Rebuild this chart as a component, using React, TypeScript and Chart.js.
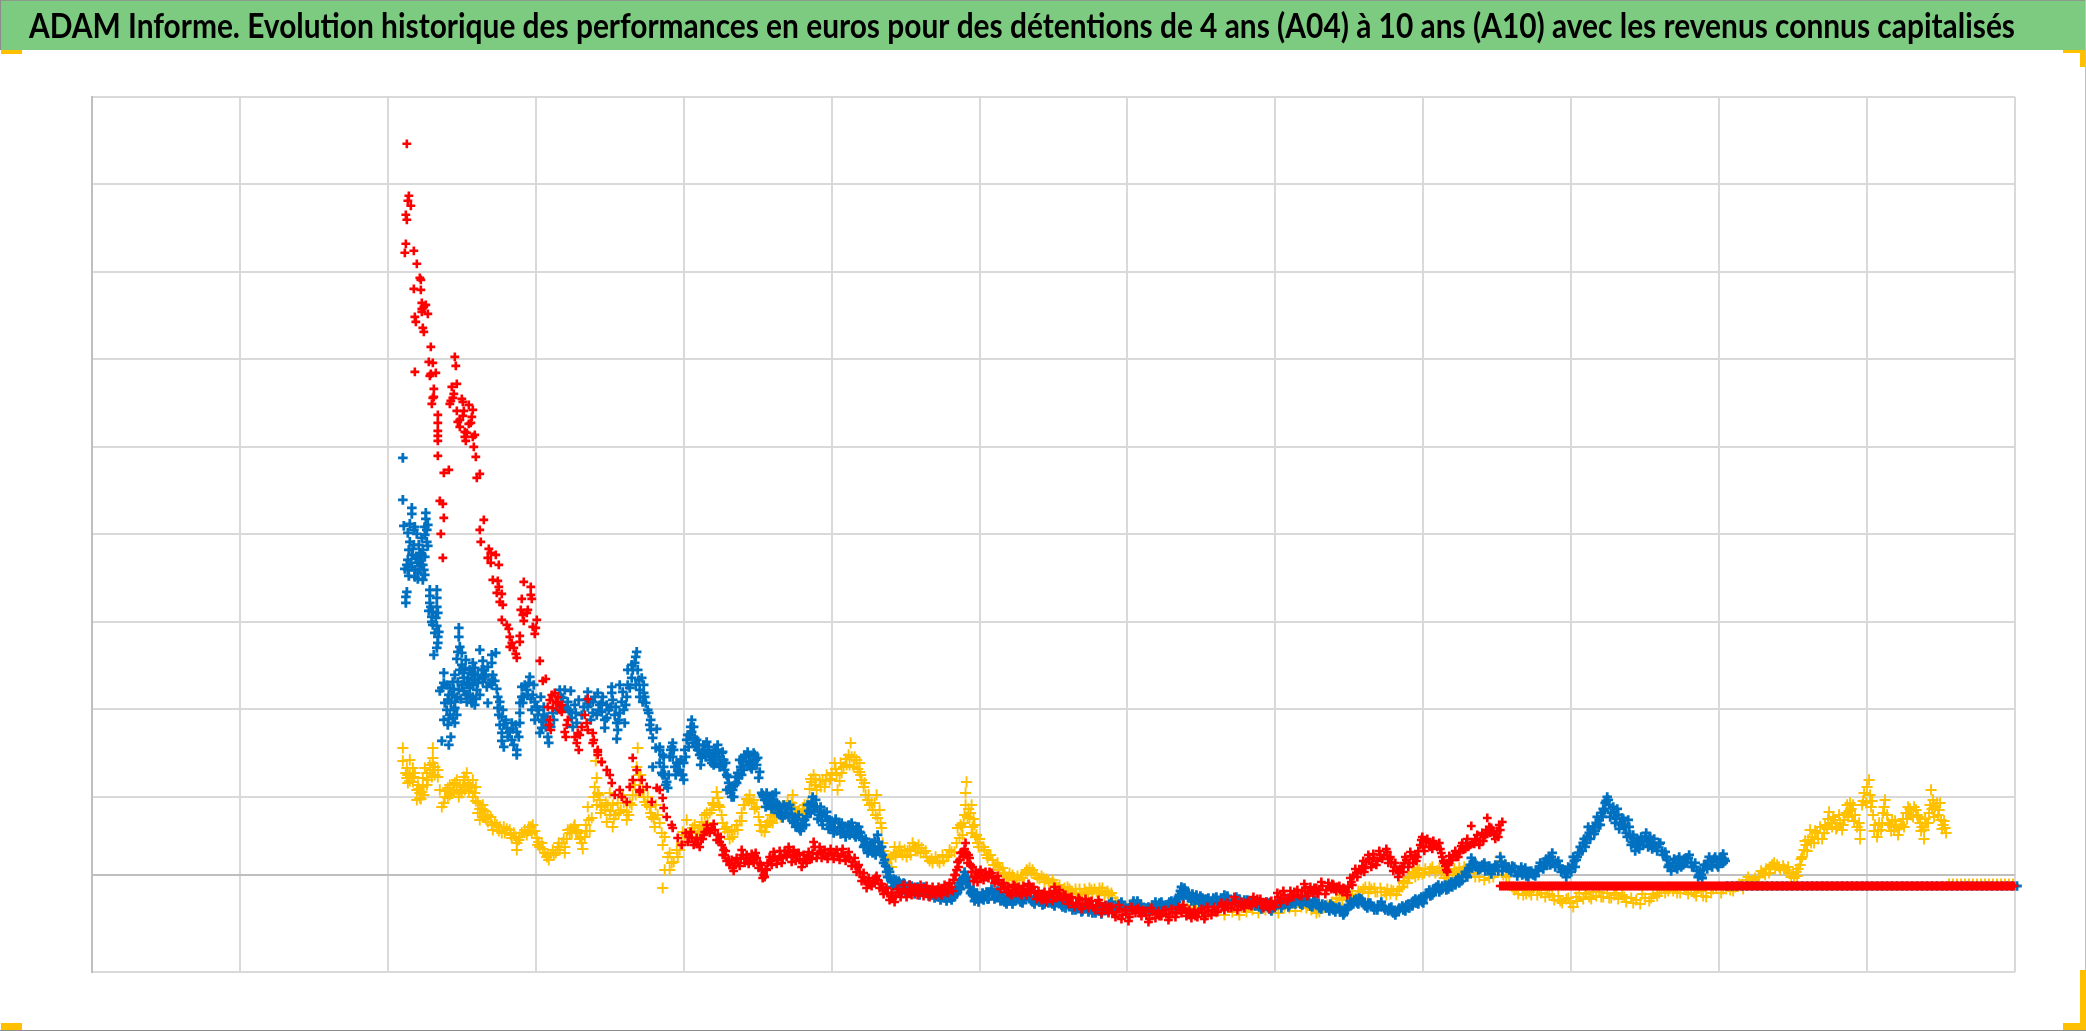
import React, { useEffect, useRef } from "react";
import { Chart, registerables } from "chart.js";

Chart.register(...registerables);

const chartTitle =
  "ADAM Informe. Evolution historique des performances en euros pour des détentions de 4 ans (A04) à 10 ans (A10) avec les revenus connus capitalisés";

const seriesNames = ["A10", "A07", "A04"];
const yGridValues = [778, 690.5, 603, 515.5, 428, 340.5, 253, 165.5, 78, 0, -97];

// x, y pairs
const a10Early = [
  315,731, 317,679, 316,674, 319,669, 314,660, 315,655, 314,631, 313,622, 322,624, 325,611, 328,597, 329,595, 322,586, 329,585,
  330,572, 334,570, 330,566, 332,568, 330,563, 336,561, 323,558, 324,553, 331,547, 332,543, 339,528, 337,513, 341,512, 323,503,
  344,502, 339,501, 338,499, 363,518, 364,509, 365,491, 360,488, 362,481, 361,477, 359,474, 358,471, 342,486, 342,478, 341,477,
  340,471, 370,476, 371,473, 377,470, 381,465, 365,464, 372,464, 371,459, 380,458, 368,455, 366,453, 379,452, 377,451, 368,448,
  373,443, 375,442, 383,440, 381,438, 373,438, 374,434, 346,460, 346,452, 346,444, 346,439, 346,434, 346,419, 382,428, 384,418,
  352,402, 357,405, 388,401, 385,397, 348,374, 351,371, 352,357, 349,341, 351,317, 392,355, 388,345, 389,333, 397,326, 399,322,
  404,320, 396,317, 399,312, 407,310, 401,295, 406,294, 407,288, 405,282, 410,281, 408,273, 411,270, 410,255, 415,250, 417,246,
  418,238, 420,232, 418,228, 422,227, 424,221, 425,217, 432,293, 439,288, 439,280, 430,276, 440,276, 429,265, 436,265, 435,262,
  431,260, 432,254, 445,255, 441,248, 444,247, 443,241, 428,239, 428,233, 448,214, 451,194, 454,196, 463,182, 466,178, 458,175,
  464,173, 456,168, 461,167, 468,165, 465,172, 470,170, 460,180, 470,163, 458,155, 457,150, 459,145, 476,155, 475,150, 473,143,
  474,138, 493,160, 495,152, 490,148, 496,145, 486,142, 483,138, 488,140, 485,132, 487,125, 501,142, 502,135, 501,132, 506,125,
  506,120, 510,113, 496,176, 506,123, 510,113, 515,105, 518,100, 520,92, 523,80, 528,85, 530,78, 535,73, 538,88, 541,95, 545,105,
  548,85, 541,117, 550,95, 555,88, 548,83, 560,73, 565,87, 568,85, 571,77, 572,67, 575,58, 580,50, 581,47, 586,37, 590,30,
];

const a10Band = [
  594,42, 597,38, 600,37, 603,33, 606,31, 608,28, 611,36, 613,43, 616,45, 620,47, 623,45, 626,40, 628,33, 630,30, 632,25, 633,20,
  635,14, 638,10, 641,7, 643,12, 646,12, 649,16, 651,20, 654,17, 656,14, 658,17, 661,15, 663,19, 665,17, 668,12, 670,5, 672,0,
  673,-2, 674,6, 676,12, 679,14, 681,17, 683,18, 686,15, 689,19, 691,17, 694,20, 696,24, 698,23, 701,18, 703,20, 705,20, 708,16,
  711,12, 713,15, 716,18, 718,17, 721,22, 723,28, 726,21, 729,23, 731,22, 734,19, 737,22, 740,20, 743,22, 746,19, 750,21, 753,19,
  756,18, 758,17, 761,13, 764,9, 766,8, 768,3, 771,-2, 773,-6, 776,-8, 778,-8, 781,-6, 784,-3, 786,-5, 789,-9, 791,-14, 793,-15,
  796,-18, 799,-21, 801,-23, 804,-21, 807,-17, 810,-17, 813,-15, 816,-18, 819,-14, 821,-15, 824,-17, 827,-15, 830,-14, 833,-17,
  836,-15, 839,-18, 842,-16, 845,-15, 848,-18, 851,-14, 854,-15, 857,-13, 860,-12, 862,-5, 864,0, 865,5, 866,13, 868,15, 871,23,
  872,18, 874,32, 875,22, 876,12, 877,20, 878,17, 879,10, 881,8, 883,-2, 885,-3, 887,2, 890,-1, 893,0, 895,-2, 898,3, 901,-3,
  904,-6, 907,-5, 910,-10, 913,-13, 916,-12, 918,-18, 921,-15, 923,-11, 925,-13, 928,-18, 931,-14, 933,-17, 936,-15, 938,-11,
  940,-13, 943,-18, 946,-20, 948,-22, 951,-19, 954,-24, 956,-22, 959,-19, 962,-22, 964,-16, 966,-18, 969,-22, 972,-20, 975,-25,
  978,-23, 981,-28, 985,-28, 988,-25, 991,-30, 995,-29, 998,-27, 1001,-32, 1005,-30, 1008,-28, 1011,-34, 1015,-35, 1018,-32,
  1021,-38, 1025,-37, 1028,-34, 1031,-40, 1035,-39, 1038,-42, 1041,-36, 1045,-34, 1048,-38, 1051,-35, 1055,-40, 1058,-44, 1061,-37,
  1065,-39, 1068,-41, 1071,-36, 1075,-39, 1078,-42, 1081,-37, 1085,-38, 1088,-35, 1091,-33, 1093,-34, 1096,-37, 1099,-40, 1101,-38,
  1104,-41, 1107,-37, 1111,-38, 1114,-41, 1117,-36, 1121,-35, 1124,-37, 1127,-32, 1131,-32, 1134,-30, 1137,-33, 1141,-28, 1144,-26,
  1147,-31, 1151,-31, 1154,-28, 1158,-30, 1161,-26, 1163,-27, 1166,-24, 1170,-29, 1173,-28, 1176,-31, 1179,-27, 1181,-30, 1184,-27,
  1187,-22, 1190,-24, 1193,-20, 1197,-23, 1200,-20, 1203,-17, 1207,-20, 1211,-16, 1214,-13, 1217,-18, 1220,-16, 1223,-13, 1226,-18,
  1228,-15, 1231,-11, 1235,-15, 1238,-12, 1241,-9, 1243,-14, 1246,-12, 1249,-15, 1252,-13, 1255,-17, 1257,-12, 1260,-7, 1262,-1,
  1265,2, 1268,5, 1271,9, 1273,3, 1275,13, 1278,16, 1281,11, 1283,17, 1286,14, 1289,20, 1293,20, 1296,23, 1298,16, 1300,13, 1303,8,
  1306,5, 1308,2, 1311,8, 1313,12, 1315,15, 1318,12, 1320,19, 1323,17, 1325,14, 1327,24, 1330,35, 1332,28, 1335,33, 1338,32, 1341,26,
  1344,30, 1348,32, 1350,22, 1351,18, 1353,12, 1355,5, 1357,10, 1359,15, 1362,20, 1365,18, 1368,23, 1370,29, 1372,25, 1375,32, 1377,28,
  1380,49, 1381,32, 1384,36, 1385,35, 1388,30, 1391,42, 1393,38, 1395,45, 1396,57, 1398,48, 1400,47, 1403,40, 1405,40, 1407,38, 1409,45,
  1411,53,
];

const a10Thick = [
  596,33, 599,43, 602,30, 605,37, 609,36, 612,40, 615,50, 618,42, 622,51, 625,35, 629,38, 631,20, 634,24, 637,15, 640,15, 642,4, 645,17, 648,9,
  650,25, 653,12, 655,20, 657,11, 660,21, 662,12, 664,22, 667,7, 669,10, 671,-3, 675,5, 678,18, 680,10, 682,23, 685,11, 688,24, 690,12, 693,24,
  695,18, 697,28, 700,13, 702,25, 704,14, 707,22, 710,8, 712,20, 715,12, 717,23, 720,16, 722,33, 725,17, 728,28, 730,17, 733,25, 736,16, 739,26,
  742,16, 745,25, 748,15, 751,26, 754,14, 757,23, 760,9, 763,17, 765,3, 767,10, 770,-6, 772,2, 775,-13, 777,-3, 780,-11, 783,-8, 785,-1, 788,-13,
  790,-9, 792,-19, 795,-13, 798,-25, 800,-18, 803,-27, 806,-14, 809,-22, 812,-10, 815,-22, 818,-10, 820,-20, 823,-12, 826,-20, 829,-10, 832,-21,
  835,-11, 838,-22, 841,-12, 844,-20, 847,-12, 850,-20, 853,-10, 856,-18, 858,-8, 861,-16, 863,0, 867,8, 869,22, 873,26, 880,3, 882,-6, 884,3,
  886,-7, 889,5, 892,-5, 894,3, 897,-3, 900,2, 903,-8, 906,-1, 909,-14, 912,-8, 915,-17, 917,-12, 920,-20, 922,-10, 924,-18, 927,-12, 930,-20,
  932,-11, 935,-20, 937,-9, 939,-18, 942,-12, 945,-24, 947,-16, 950,-25, 953,-17, 955,-27, 958,-17, 961,-26, 963,-12, 965,-23, 968,-15, 971,-25,
  974,-20, 977,-29, 980,-22, 983,-32, 987,-23, 990,-34, 994,-24, 997,-33, 1000,-26, 1004,-35, 1007,-25, 1010,-38, 1014,-30, 1017,-38, 1020,-32,
  1024,-42, 1027,-30, 1030,-44, 1034,-35, 1037,-46, 1040,-32, 1044,-38, 1047,-33, 1050,-41, 1054,-36, 1057,-47, 1060,-33, 1064,-43, 1067,-36,
  1070,-41, 1074,-35, 1077,-45, 1080,-34, 1084,-42, 1087,-32, 1090,-38, 1092,-30, 1095,-41, 1098,-35, 1100,-43, 1103,-35, 1106,-42, 1110,-34,
  1113,-44, 1116,-32, 1120,-40, 1123,-32, 1126,-37, 1130,-28, 1133,-35, 1136,-28, 1140,-33, 1143,-22, 1146,-35, 1150,-27, 1153,-33, 1157,-26,
  1160,-31, 1162,-22, 1165,-29, 1169,-24, 1172,-33, 1175,-27, 1178,-34, 1180,-26, 1183,-32, 1186,-18, 1189,-28, 1192,-16, 1196,-26, 1199,-16,
  1202,-22, 1206,-15, 1210,-21, 1213,-9, 1216,-21, 1219,-12, 1222,-18, 1225,-13, 1227,-19, 1230,-7, 1234,-19, 1237,-8, 1240,-14, 1242,-10,
  1245,-16, 1248,-11, 1251,-17, 1254,-14, 1256,-20, 1259,-3, 1261,-10, 1264,6, 1266,-2, 1270,4, 1272,14, 1274,7, 1277,20, 1280,8, 1282,21, 1285,10,
  1288,24, 1291,16, 1295,26, 1297,12, 1299,18, 1302,4, 1304,12, 1307,-2, 1309,6, 1312,3, 1314,18, 1317,8, 1319,23, 1322,12, 1324,20, 1326,18,
  1329,30, 1331,38, 1333,24, 1336,36, 1339,28, 1342,34, 1346,28, 1349,26, 1352,14, 1354,9, 1356,3, 1358,19, 1361,15, 1364,24, 1367,18, 1369,24,
  1371,32, 1374,26, 1376,36, 1379,30, 1383,31, 1386,40, 1389,34, 1392,34, 1394,40, 1397,44, 1399,42, 1402,44, 1404,36, 1406,44, 1408,50,
];

const a10TailValue = -11;
const a10TailX = [
  1409,1411,1413,1415,1417,1419,1421,1423,1425,1427,1429,1431,1433,1435,1437,1439,1441,1443,1445,1447,1449,1451,1453,1455,1457,1459,1461,1463,
  1465,1467,1469,1471,1473,1475,1477,1479,1481,1483,1485,1487,1489,1491,1493,1495,1497,1499,1501,1503,1505,1507,1509,1511,1513,1515,1517,1519,
  1521,1523,1525,1527,1529,1531,1533,1535,1537,1539,1541,1543,1545,1547,1549,1551,1553,1555,1557,1559,1561,1563,1565,1567,1569,1571,1573,1575,
  1577,1579,1581,1583,1585,1587,1589,1591,1593,1595,1597,1599,1601,1603,1605,1607,1609,1611,1613,1615,1617,1619,1621,1623,1625,1627,1629,1631,
  1633,1635,1637,1639,1641,1643,1645,1647,1649,1651,1653,1655,1657,1659,1661,1663,1665,1667,1669,1671,1673,1675,1677,1679,1681,1683,1685,1687,
  1689,1691,1693,1695,1697,1699,1701,1703,1705,1707,1709,1711,1713,1715,1717,1719,1721,1723,1725,1727,1729,1731,1733,1735,1737,1739,1741,1743,
  1745,1747,1749,1751,1753,1755,1757,1759,1761,1763,1765,1767,1769,1771,1773,1775,1777,1779,1781,1783,1785,1787,1789,1791,1793,1795,1797,1799,
  1801,1803,1805,1807,1809,1811,1813,1815,1817,1819,1821,1823,1825,1827,1829,1831,1833,1835,1837,1839,1841,1843,1845,1847,1849,1851,1853,1855,
  1857,1859,1861,1863,1865,1867,1869,1871,1873,1875,1877,1879,1881,1883,1885,1887,1889,1891,1893,1895,1897,1899,1901,1903,1905,1907,1909,1911,
  1913,1915,1917,1919,1921,1923,
];

const a07Early = [
  311,417, 311,375, 320,367, 320,361, 334,362, 334,356, 312,349, 318,351, 323,348, 333,348, 336,350, 335,345, 316,342, 325,341, 330,337,
  335,333, 318,333, 322,330, 336,329, 331,325, 330,320, 320,320, 328,315, 316,315, 315,310, 320,308, 326,312, 331,310, 313,306, 316,305,
  323,305, 328,305, 332,305, 317,299, 331,295, 326,302, 315,283, 314,278, 314,272, 338,285, 345,285, 338,279, 345,277, 338,272, 345,268,
  337,264, 341,263, 346,262, 340,253, 341,250, 345,249, 343,242, 346,238, 346,232, 345,227, 342,220, 367,247, 367,238, 388,225, 368,228,
  366,223, 370,222, 365,216, 370,210, 373,207, 400,220, 404,222, 391,214, 400,212, 381,212, 383,207, 371,202, 352,202, 380,202, 386,200,
  393,198, 401,200, 363,200, 376,197, 383,195, 391,193, 400,195, 361,193, 366,193, 375,192, 381,190, 352,192, 350,187, 348,184, 358,187,
  378,187, 385,185, 400,190, 405,186, 376,180, 381,178, 388,180, 360,180, 365,178, 356,175, 363,173, 375,173, 380,172, 396,172, 353,172,
  355,165, 363,167, 406,178, 408,173, 406,167, 411,165, 410,158, 414,155, 358,160, 361,157, 352,155, 363,152, 356,150, 408,150, 420,152,
  415,147, 428,152, 410,142, 418,143, 425,143, 410,134, 420,135, 350,134, 359,138, 357,130, 425,125, 425,120, 438,198, 433,190, 430,188,
  435,185, 430,178, 436,180, 431,172, 428,162, 443,173, 445,168, 446,160, 443,155, 451,153, 450,147, 448,142, 456,138, 457,132, 455,158,
  468,185, 479,184, 471,177, 476,173, 475,167, 478,163, 480,157, 485,152, 496,183, 506,182, 501,173, 508,170, 496,168, 501,162, 510,163,
  515,157, 513,147, 520,188, 520,182, 519,168, 523,160, 525,152, 526,145, 525,136, 531,183, 530,173, 528,162, 533,152, 545,223, 543,212,
  536,205, 546,205, 540,197, 550,197, 538,187, 548,185, 553,178, 551,173, 548,178, 554,172, 557,162, 559,155, 559,145, 565,146, 561,137,
  564,127, 561,108, 568,128, 572,118, 326,296, 321,326, 328,322, 333,318, 324,316, 370,190, 386,192, 395,188, 372,184, 384,176, 367,185,
  392,205, 378,205, 396,208, 374,215, 437,192, 441,180, 428,172, 440,165, 452,168, 459,148, 461,162, 470,168, 483,170, 490,160, 494,175,
  499,155, 505,160, 515,170, 511,178, 535,178, 528,190, 534,170, 540,210, 552,190, 544,190, 322,345, 317,325, 327,330, 333,340, 319,312,
  325,318, 329,310, 323,298, 333,300, 340,258, 344,257, 347,243, 339,268, 355,190, 357,180, 362,186, 368,205, 372,197, 377,192, 382,200,
  387,196, 390,205, 394,200, 398,192, 403,194, 378,178, 383,170, 374,180, 369,176, 359,172, 362,165, 357,156, 365,160, 407,160, 412,150,
  416,138, 421,146, 424,150, 427,138, 422,130, 412,128, 432,178, 439,176, 442,190, 447,165, 449,178, 452,160, 454,148, 450,155, 458,150,
  462,155, 465,165, 469,178, 473,185, 477,165, 481,148, 484,162, 487,175, 492,168, 498,172, 503,178, 507,165, 510,172, 513,155, 517,165,
  521,175, 524,168, 527,155, 532,165, 536,190, 541,205, 544,218, 547,195, 552,182, 556,165, 558,150,
];

const a07Band = [
  568,125, 571,120, 570,102, 568,112, 572,108, 575,93, 573,100, 576,87, 578,118, 579,125, 581,132, 581,118, 580,128, 583,108, 585,112,
  586,104, 588,105, 590,100, 591,100, 589,115, 592,112, 593,125, 594,118, 595,135, 597,128, 598,140, 600,155, 600,143, 601,132, 602,148,
  603,137, 604,128, 606,125, 607,130, 608,120, 610,117, 611,125, 613,122, 615,133, 616,122, 617,128, 619,115, 620,112, 621,120, 623,125,
  624,115, 626,130, 627,118, 629,112, 630,122, 631,123, 632,115, 631,110, 633,105, 635,100, 636,98, 637,92, 638,87, 639,82, 640,78, 641,85,
  643,90, 645,92, 646,102, 647,97, 649,108, 651,113, 652,105, 654,118, 656,123, 657,113, 659,108, 661,112, 663,120, 664,115, 666,117,
  668,103, 667,97, 670,82, 672,78, 673,75, 675,82, 676,72, 678,70, 679,76, 681,80, 683,68, 684,82, 685,72, 686,62, 688,66, 690,62, 692,70,
  693,60, 695,62, 696,68, 697,58, 699,66, 700,60, 702,52, 703,58, 705,50, 706,56, 708,46, 710,52, 711,48, 713,55, 715,58, 717,64, 718,70,
  720,72, 722,65, 724,75, 725,68, 727,60, 728,63, 730,54, 732,62, 735,63, 736,55, 738,55, 739,48, 741,47, 743,52, 745,44, 748,47, 750,52,
  752,43, 755,43, 757,50, 759,45, 761,47, 763,40, 765,48, 768,43, 770,37, 771,35, 773,30, 775,33, 777,27, 778,24, 780,32, 782,28, 785,25,
  786,40, 787,33, 788,26, 790,28, 791,20, 793,15, 794,9, 795,3, 796,-2, 798,3, 800,-7, 802,-4, 805,-10, 807,-6, 809,-12, 811,-13, 813,-9,
  815,-14, 818,-10, 821,-16, 824,-13, 827,-17, 829,-15, 832,-12, 835,-18, 838,-16, 841,-20, 844,-17, 847,-22, 850,-20, 853,-23, 856,-19,
  858,-23, 861,-20, 863,-16, 865,-19, 866,-17, 868,-12, 870,-7, 872,-2, 873,3, 874,-4, 875,-9, 877,-6, 878,-12, 880,-16, 881,-20, 884,-24,
  886,-21, 888,-23, 891,-18, 893,-20, 896,-24, 898,-17, 901,-18, 904,-22, 907,-19, 910,-22, 913,-27, 916,-23, 918,-26, 921,-29, 924,-21,
  926,-22, 929,-27, 932,-24, 935,-19, 938,-22, 941,-27, 944,-24, 948,-27, 951,-30, 954,-24, 958,-25, 961,-29, 964,-26, 968,-28, 971,-32,
  975,-29, 978,-31, 981,-35, 985,-31, 988,-33, 991,-36, 995,-32, 998,-34, 1001,-38, 1005,-33, 1008,-36, 1011,-32, 1015,-35, 1018,-29,
  1021,-31, 1024,-34, 1028,-29, 1031,-32, 1035,-35, 1039,-30, 1043,-29, 1046,-26, 1050,-33, 1055,-33, 1058,-36, 1061,-30, 1065,-31,
  1068,-28, 1071,-33, 1075,-30, 1078,-27, 1081,-30, 1085,-27, 1087,-22, 1089,-16, 1091,-17, 1093,-13, 1095,-20, 1098,-23, 1101,-19,
  1103,-26, 1106,-25, 1109,-21, 1112,-28, 1115,-24, 1118,-27, 1122,-23, 1126,-27, 1130,-23, 1133,-20, 1137,-25, 1141,-26, 1145,-22,
  1149,-28, 1153,-25, 1157,-29, 1161,-30, 1165,-26, 1168,-32, 1171,-30, 1175,-27, 1178,-34, 1181,-33, 1185,-29, 1188,-26, 1191,-30,
  1195,-26, 1198,-30, 1201,-28, 1205,-24, 1209,-29, 1212,-26, 1215,-27, 1219,-31, 1222,-26, 1225,-28, 1228,-33, 1231,-29, 1235,-33,
  1239,-29, 1242,-35, 1245,-33, 1249,-37, 1253,-38, 1255,-34, 1257,-30, 1260,-30, 1263,-25, 1266,-28, 1268,-23, 1271,-27, 1274,-31,
  1277,-28, 1280,-31, 1283,-35, 1287,-30, 1291,-31, 1294,-35, 1298,-33, 1302,-38, 1305,-37, 1308,-33, 1312,-35, 1315,-30, 1318,-33,
  1322,-26, 1325,-28, 1328,-24, 1331,-27, 1333,-22, 1336,-18, 1339,-21, 1342,-14, 1345,-12, 1348,-17, 1351,-11, 1355,-15, 1358,-9,
  1361,-12, 1365,-5, 1368,-8, 1371,-1, 1375,0, 1377,4, 1379,10, 1380,17, 1381,7, 1384,12, 1387,5, 1391,10, 1394,4, 1398,9, 1401,5, 1404,10,
  1407,4, 1410,13, 1409,18, 1412,8, 1415,7, 1418,5, 1421,9, 1424,3, 1427,3, 1430,8, 1432,5, 1435,-1, 1438,3, 1442,0, 1445,5, 1448,8, 1450,8,
  1453,13, 1456,10, 1458,18, 1460,18, 1462,14, 1465,12, 1468,9, 1471,6, 1474,2, 1476,2, 1478,6, 1481,10, 1483,14, 1485,15, 1487,22, 1489,28,
  1492,32, 1494,28, 1496,38, 1498,42, 1500,45, 1503,41, 1505,52, 1507,50, 1508,55, 1510,62, 1512,66, 1514,72, 1516,78, 1517,75, 1518,70,
  1520,62, 1523,63, 1525,56, 1527,60, 1529,52, 1531,57, 1533,48, 1535,42, 1537,55, 1539,40, 1541,33, 1543,36, 1545,28, 1547,33, 1549,30,
  1551,35, 1554,38, 1556,33, 1558,36, 1560,30, 1562,32, 1565,28, 1568,31, 1571,24, 1574,23, 1576,15, 1578,10, 1579,8, 1582,12, 1585,9,
  1587,15, 1589,12, 1592,10, 1595,17, 1597,17, 1600,12, 1603,8, 1606,4, 1608,0, 1610,0, 1612,5, 1615,10, 1617,14, 1620,13, 1623,16, 1626,10,
  1629,15, 1632,12, 1632,21, 1634,14,
];

const a07Thick = [
  571,100, 574,90, 577,100, 582,125, 584,100, 587,112, 592,95, 596,140, 599,148, 605,135, 609,110, 612,130, 614,118, 618,120, 622,110, 625,125,
  628,108, 634,112, 635,85, 642,78, 644,98, 648,115, 650,100, 653,120, 655,110, 658,118, 660,106, 662,122, 665,110, 671,80, 674,68, 677,78, 680,66,
  682,75, 687,70, 689,60, 691,57, 694,68, 698,70, 701,54, 704,48, 707,60, 709,44, 712,55, 714,50, 716,70, 719,62, 721,78, 723,68, 726,56, 729,68,
  731,50, 734,58, 737,46, 740,54, 742,42, 744,56, 747,52, 749,41, 751,48, 754,38, 756,48, 758,40, 760,52, 762,44, 764,38, 767,48, 769,42, 772,28,
  774,36, 776,22, 779,30, 781,22, 783,34, 784,20, 789,22, 792,12, 797,6, 799,-4, 801,-12, 804,-5, 806,-14, 808,-8, 810,-18, 812,-8, 814,-18, 817,-14,
  820,-11, 823,-19, 826,-12, 828,-20, 831,-17, 834,-13, 837,-21, 840,-16, 843,-23, 846,-17, 849,-25, 852,-19, 855,-26, 857,-19, 860,-25, 862,-22,
  864,-14, 867,-8, 869,-14, 871,-4, 876,-2, 879,-18, 882,-15, 883,-26, 885,-18, 887,-27, 890,-22, 892,-25, 895,-17, 897,-24, 900,-14, 903,-24, 906,-16,
  909,-26, 912,-22, 915,-29, 917,-22, 920,-25, 923,-26, 925,-18, 928,-24, 931,-28, 934,-22, 937,-17, 940,-25, 943,-29, 947,-23, 950,-26, 953,-29,
  957,-28, 960,-23, 963,-31, 967,-25, 970,-30, 974,-33, 977,-27, 980,-31, 984,-35, 987,-29, 990,-37, 994,-30, 997,-37, 1000,-33, 1004,-38, 1007,-32,
  1010,-39, 1014,-31, 1017,-36, 1020,-27, 1023,-37, 1027,-32, 1030,-27, 1034,-33, 1038,-33, 1042,-26, 1045,-31, 1049,-29, 1053,-36, 1057,-32, 1060,-35,
  1064,-27, 1067,-33, 1070,-27, 1074,-33, 1077,-30, 1080,-26, 1084,-31, 1086,-24, 1088,-20, 1090,-12, 1092,-22, 1094,-16, 1097,-18, 1100,-26, 1102,-22,
  1105,-20, 1108,-28, 1111,-23, 1114,-29, 1117,-23, 1121,-28, 1125,-22, 1129,-27, 1132,-24, 1136,-21, 1140,-29, 1144,-26, 1148,-24, 1152,-29, 1156,-25,
  1160,-27, 1164,-31, 1167,-27, 1170,-34, 1174,-31, 1177,-28, 1180,-36, 1184,-31, 1187,-27, 1190,-33, 1194,-28, 1197,-32, 1200,-25, 1204,-29, 1208,-25,
  1211,-30, 1214,-23, 1218,-28, 1221,-32, 1224,-25, 1227,-30, 1230,-34, 1234,-30, 1238,-36, 1241,-31, 1244,-37, 1248,-32, 1252,-40, 1254,-35, 1256,-34,
  1259,-26, 1262,-29, 1265,-24, 1267,-29, 1270,-24, 1273,-28, 1276,-33, 1279,-28, 1282,-32, 1286,-35, 1290,-27, 1293,-33, 1297,-36, 1300,-32, 1304,-40,
  1307,-35, 1311,-31, 1314,-36, 1317,-29, 1321,-31, 1324,-24, 1327,-29, 1330,-22, 1332,-28, 1335,-21, 1338,-15, 1341,-20, 1344,-16, 1347,-10, 1350,-15,
  1354,-10, 1357,-14, 1360,-7, 1364,-10, 1367,-3, 1370,-6, 1374,3, 1376,-2, 1378,7, 1382,13, 1385,8, 1389,6, 1393,12, 1397,6, 1400,1, 1403,7, 1406,8,
  1411,4, 1414,11, 1417,8, 1420,3, 1423,8, 1426,-1, 1429,3, 1431,0, 1434,7, 1437,-2, 1440,4, 1444,-1, 1447,4, 1449,12, 1452,6, 1455,16, 1457,14, 1459,10,
  1461,22, 1464,8, 1467,14, 1470,3, 1473,5, 1475,-2, 1477,8, 1480,3, 1482,18, 1484,8, 1486,18, 1488,22, 1491,24, 1493,36, 1495,32, 1497,48, 1499,36,
  1502,48, 1504,44, 1506,58, 1509,50, 1511,58, 1513,64, 1515,74, 1519,58, 1522,68, 1524,52, 1526,66, 1528,46, 1530,50, 1532,56, 1534,50, 1536,38, 1538,48,
  1540,30, 1542,40, 1544,24, 1546,36, 1548,26, 1550,38, 1552,30, 1555,42, 1557,28, 1559,38, 1561,26, 1563,36, 1566,24, 1569,32, 1572,20, 1575,18, 1577,8,
  1580,4, 1583,16, 1586,6, 1588,18, 1590,8, 1593,16, 1596,12, 1598,20, 1601,8, 1604,12, 1607,-2, 1609,4, 1611,-3, 1613,10, 1616,6, 1618,18, 1621,8, 1624,18,
  1627,8, 1630,18, 1633,16,
];

const a07TailValue = -11;
const a07TailX = [
  1636,1641,1646,1651,1656,1661,1666,1671,1676,1681,1686,1691,1696,1701,1706,1711,1716,1721,1726,1731,1736,1741,1746,1751,1756,1761,
  1766,1771,1776,1781,1786,1791,1796,1801,1806,1811,1816,1821,1826,1831,1836,1841,1846,1851,1856,1861,1866,1871,1876,1881,1886,1891,
  1896,1901,1906,1911,1916,1921,1926,
];

const a04Band = [
  311,127, 311,114, 318,115, 341,127, 341,117, 341,112, 315,107, 321,107, 314,102, 318,102, 323,102, 315,97, 320,97, 316,100, 321,93, 318,94,
  333,107, 335,102, 331,97, 336,95, 338,110, 343,108, 346,105, 341,105, 338,102, 346,98, 340,98, 326,90, 331,88, 328,82, 325,85, 330,83,
  332,80, 328,77, 325,75, 327,86, 348,85, 356,87, 350,68, 353,78, 356,77, 352,72, 358,80, 360,82, 365,95, 361,90, 368,90, 362,85, 375,102,
  373,95, 371,88, 376,92, 365,85, 370,82, 367,78, 373,85, 381,95, 378,90, 380,87, 383,82, 381,78, 384,74, 386,72, 391,70, 389,62, 386,62,
  388,66, 393,64, 396,60, 388,55, 391,58, 396,53, 399,58, 403,52, 401,45, 405,50, 408,48, 410,42, 412,48, 415,46, 418,45, 420,37, 422,42,
  425,32, 425,25, 427,35, 430,42, 433,45, 435,40, 437,48, 439,48, 440,42, 443,44, 445,37, 447,33, 448,28, 450,32, 453,22, 455,18, 457,15,
  459,20, 461,25, 464,22, 466,28, 468,25, 470,32, 473,28, 473,22, 475,36, 476,45, 478,42, 480,42, 482,48, 483,50, 485,45, 486,42, 488,36,
  490,32, 491,26, 493,38, 494,50, 496,68, 497,55, 498,44, 500,57, 503,88, 505,97, 504,114, 502,78, 505,70, 507,80, 508,75, 510,68, 513,65,
  516,70, 518,82, 521,70, 515,53, 518,60, 521,48, 524,60, 526,72, 529,65, 532,72, 535,63, 535,55, 538,72, 541,80, 543,90, 546,127, 545,108,
  548,95, 551,85, 549,100, 553,73, 556,78, 558,68, 560,58, 563,48, 566,60, 564,70, 570,42, 568,52, 571,30, 573,38, 576,18, 578,22, 582,13,
  580,12, 573,5, 578,5, 571,-13, 585,25, 588,25, 586,18, 591,43, 590,32, 595,55, 593,40, 598,42, 601,47, 604,38, 606,42, 608,48, 610,53,
  612,46, 613,60, 616,52, 618,62, 620,65, 622,70, 625,83, 626,77, 628,68, 630,60, 631,52, 633,46, 636,43, 638,36, 641,38, 643,45, 646,45,
  648,54, 650,62, 652,70, 653,70, 655,76, 658,80, 660,72, 662,75, 665,68, 667,58, 668,50, 670,44, 673,43, 675,50, 676,53, 679,60, 681,52,
  683,58, 686,64, 689,58, 691,68, 693,68, 696,74, 699,66, 701,80, 703,68, 705,62, 708,60, 711,66, 713,70, 716,72, 718,86, 720,93, 722,100,
  723,90, 725,85, 728,95, 731,95, 733,88, 735,100, 738,95, 740,102, 743,112, 745,100, 746,85, 748,94, 750,102, 752,108, 755,110, 757,120,
  759,132, 760,118, 762,108, 765,115, 768,112, 768,103, 770,95, 772,88, 774,80, 776,75, 778,70, 781,65, 783,72, 785,80, 786,57, 788,65,
  789,52, 790,47, 791,32, 792,24, 793,18, 795,12, 797,16, 800,8, 802,20, 803,28, 805,22, 808,28, 811,20, 813,25, 815,18, 818,26, 821,32,
  824,24, 827,30, 830,27, 832,22, 835,18, 838,14, 841,12, 844,18, 848,12, 851,20, 855,18, 858,25, 860,23, 863,23, 866,47, 865,32, 868,37,
  870,48, 872,52, 873,60, 874,70, 874,82, 875,93, 876,58, 878,57, 880,70, 881,48, 880,42, 883,50, 884,38, 886,32, 888,36, 890,28, 893,25,
  895,20, 896,17, 899,20, 901,15, 904,10, 906,12, 908,5, 911,7, 913,1, 915,-2, 918,2, 920,-4, 923,-5, 926,-1, 928,-5, 931,-3, 934,2, 936,4,
  938,7, 941,5, 943,1, 945,0, 948,-4, 950,-1, 953,-7, 955,-4, 958,-8, 961,-5, 963,-11, 965,-12, 968,-10, 971,-15, 975,-17, 978,-14, 981,-19,
  985,-18, 988,-14, 991,-19, 995,-17, 998,-13, 1001,-18, 1005,-17, 1008,-13, 1011,-13, 1014,-17, 1016,-16, 1018,-20, 1021,-23, 1024,-26,
  1026,-27, 1029,-31, 1031,-30, 1035,-33, 1040,-29, 1045,-28, 1050,-31, 1055,-35, 1060,-33, 1066,-36, 1072,-34, 1078,-33, 1084,-31, 1091,-30,
  1096,-33, 1102,-30, 1105,-33, 1110,-36, 1117,-38, 1125,-37, 1133,-40, 1141,-37, 1148,-40, 1155,-37, 1161,-35, 1167,-38, 1174,-35, 1181,-35,
  1187,-38, 1193,-33, 1198,-33, 1204,-36, 1210,-32, 1215,-33, 1220,-35, 1225,-38, 1228,-37, 1232,-33, 1236,-30, 1241,-27, 1245,-30, 1248,-24,
  1251,-25, 1255,-22, 1258,-25, 1261,-20, 1264,-23, 1267,-16, 1271,-17, 1274,-12, 1277,-18, 1280,-14, 1283,-13, 1286,-17, 1289,-13, 1293,-17,
  1296,-14, 1299,-19, 1302,-16, 1305,-20, 1308,-14, 1311,-12, 1313,-6, 1316,-8, 1318,-3, 1321,1, 1324,-2, 1326,7, 1328,5, 1331,1, 1334,6, 1338,3,
  1341,8, 1344,2, 1348,7, 1350,2, 1353,-3, 1355,-3, 1358,4, 1361,0, 1365,3, 1368,7, 1370,3, 1373,8, 1376,5, 1380,2, 1384,-2, 1388,-2, 1393,-5,
  1398,-3, 1402,-2, 1406,8, 1409,18, 1410,14, 1412,0, 1415,-2, 1418,-8, 1421,-12, 1423,-15, 1427,-19, 1431,-15, 1435,-19, 1438,-17, 1442,-14,
  1446,-20, 1450,-18, 1454,-22, 1458,-19, 1463,-25, 1467,-21, 1471,-28, 1475,-24, 1479,-28, 1482,-32, 1485,-22, 1488,-18, 1492,-24, 1495,-19,
  1498,-22, 1502,-17, 1505,-21, 1508,-17, 1512,-22, 1516,-18, 1520,-23, 1523,-20, 1527,-24, 1531,-20, 1535,-27, 1540,-23, 1545,-25, 1549,-29,
  1554,-23, 1558,-26, 1562,-19, 1566,-21, 1570,-15, 1574,-18, 1578,-12, 1582,-16, 1585,-13, 1589,-18, 1593,-14, 1597,-19, 1600,-15, 1605,-21,
  1610,-16, 1615,-22, 1620,-18, 1625,-13, 1630,-18, 1635,-14, 1639,-15, 1644,-12, 1648,-9, 1652,-14, 1655,-5, 1659,-8, 1662,-5, 1665,-9, 1668,-2,
  1672,2, 1675,6, 1678,2, 1681,10, 1684,6, 1686,10, 1689,5, 1692,9, 1695,5, 1698,2, 1700,-2, 1703,-3, 1705,3, 1707,6, 1709,10, 1711,18, 1713,25,
  1715,30, 1717,35, 1719,45, 1721,38, 1723,32, 1726,42, 1729,48, 1731,36, 1734,50, 1736,46, 1738,63, 1740,52, 1742,58, 1744,55, 1746,48, 1749,52,
  1751,45, 1753,55, 1755,62, 1757,58, 1759,72, 1760,66, 1761,60, 1763,54, 1766,48, 1769,45, 1769,36, 1771,70, 1773,82, 1775,72, 1778,95, 1779,80,
  1780,68, 1782,60, 1784,50, 1786,38, 1788,52, 1790,45, 1792,62, 1794,75, 1796,60, 1798,50, 1801,55, 1803,45, 1805,48, 1807,40, 1810,50, 1812,56,
  1815,62, 1817,68, 1820,60, 1823,68, 1825,65, 1827,58, 1829,52, 1831,48, 1833,45, 1833,36, 1835,52, 1838,62, 1840,85, 1842,75, 1844,68, 1846,72,
  1848,65, 1850,55, 1852,50, 1854,47, 1855,42,
];

const a04Thick = [
  316,92, 322,98, 335,90, 343,100, 329,76, 354,84, 358,90, 363,92, 368,84, 372,98, 377,84, 384,88, 390,66, 394,56, 400,50, 407,44, 413,42, 419,40,
  424,38, 428,38, 436,44, 441,50, 446,30, 451,26, 456,20, 462,20, 467,32, 472,36, 479,46, 484,44, 489,38, 495,44, 506,82, 509,62, 514,72, 519,64,
  522,56, 527,62, 531,80, 537,60, 540,70, 544,80, 547,100, 552,78, 555,70, 559,62, 562,56, 600,44, 603,50, 609,44, 615,62, 621,72, 627,70, 635,48,
  640,44, 645,50, 650,54, 657,74, 663,66, 669,50, 674,48, 678,54, 685,58, 690,60, 695,68, 700,72, 707,64, 712,62, 719,96, 724,96, 729,88, 734,94,
  739,96, 744,106, 749,112, 754,116, 758,110, 763,118, 766,106, 769,100, 773,92, 777,80, 780,72, 784,60, 799,18, 804,18, 807,24, 810,24, 816,24,
  819,20, 823,28, 826,24, 829,22, 834,24, 840,16, 846,14, 852,14, 857,20, 869,50, 871,40, 877,66, 879,62, 882,56, 885,40, 887,28, 892,28, 897,20,
  902,10, 907,8, 912,2, 917,-2, 921,0, 925,-4, 930,0, 935,5, 940,2, 946,-3, 952,-3, 957,-6, 962,-8, 967,-15, 973,-13, 976,-12, 980,-16, 984,-14,
  989,-18, 993,-14, 997,-19, 1000,-15, 1003,-14, 1007,-18, 1010,-16, 1013,-20, 1017,-19, 1020,-18, 1245,-23, 1252,-20, 1259,-20, 1266,-21, 1272,-14,
  1278,-12, 1284,-17, 1290,-17, 1295,-20, 1300,-15, 1306,-16, 1312,-8, 1317,-2, 1322,3, 1327,0, 1333,2, 1339,6, 1346,4, 1352,4, 1357,0, 1363,6,
  1367,2, 1372,4, 1425,-14, 1432,-20, 1440,-20, 1448,-15, 1456,-15, 1461,-21, 1469,-26, 1477,-23, 1486,-26, 1494,-18, 1500,-24, 1510,-22, 1518,-23,
  1525,-18, 1533,-22, 1542,-28, 1551,-19, 1560,-23, 1568,-18, 1577,-16, 1586,-18, 1595,-15, 1603,-18, 1612,-21, 1622,-14, 1632,-14, 1642,-16, 1650,-10,
  1657,-2, 1664,-3, 1670,4, 1674,0, 1679,8, 1683,12, 1688,8, 1693,6, 1697,8, 1702,2, 1706,-1, 1710,16, 1714,34, 1716,24, 1720,32, 1724,44, 1727,36,
  1733,42, 1737,56, 1741,48, 1745,46, 1748,60, 1752,50, 1756,70, 1758,64, 1762,70, 1764,60, 1768,52, 1772,74, 1776,88, 1781,74, 1783,44, 1787,44, 1791,52,
  1793,68, 1797,52, 1800,44, 1804,54, 1808,46, 1813,48, 1816,56, 1819,66, 1822,58, 1826,60, 1830,44, 1834,56, 1837,52, 1839,70, 1841,66, 1843,58, 1847,60,
  1849,72, 1851,46, 1853,54,
];

const a04TailValue = -9;
const a04TailX = [
  1858,1862,1866,1870,1874,1878,1882,1886,1890,1894,1898,1902,1906,1910,1914,1918,1922,
];

const toPoints = (pairs: number[], tailX: number[], tailValue: number) => {
  const out: { x: number; y: number }[] = [];
  for (let i = 0; i < pairs.length; i += 2) out.push({ x: pairs[i], y: pairs[i + 1] });
  tailX.forEach((x) => out.push({ x, y: tailValue }));
  return out;
};

export default function App() {
  const ref = useRef<HTMLCanvasElement>(null);

  useEffect(() => {
    document.body.style.margin = "0";
    document.body.style.background = "#ffffff";
    const base = {
      showLine: false,
      pointStyle: "cross",
      clip: false,
    };
    const chart = new Chart(ref.current!, {
      type: "scatter",
      data: {
        datasets: [
          {
            ...base,
            label: seriesNames[0],
            data: toPoints([...a10Early, ...a10Band, ...a10Thick], a10TailX, a10TailValue),
            borderColor: "#FF0000",
            backgroundColor: "#FF0000",
            pointRadius: 4.4,
            pointBorderWidth: 2.6,
          },
          {
            ...base,
            label: seriesNames[1],
            data: toPoints([...a07Early, ...a07Band, ...a07Thick], a07TailX, a07TailValue),
            borderColor: "#0070C0",
            backgroundColor: "#0070C0",
            pointRadius: 4.8,
            pointBorderWidth: 2.8,
          },
          {
            ...base,
            label: seriesNames[2],
            data: toPoints([...a04Band, ...a04Thick], a04TailX, a04TailValue),
            borderColor: "#FFC000",
            backgroundColor: "#FFC000",
            pointRadius: 5.6,
            pointBorderWidth: 1.9,
          },
        ],
      },
      options: {
        responsive: false,
        animation: false,
        layout: { padding: { left: 29, right: 71, bottom: 59, top: 0 } },
        plugins: {
          legend: { display: false },
          tooltip: { enabled: false },
          title: {
            display: true,
            text: chartTitle,
            align: "start",
            color: "#000000",
            font: { family: "Lato", size: 33.9, weight: "bold" },
            padding: { top: 7, bottom: 49.1 },
          },
        },
        scales: {
          x: {
            type: "linear",
            min: 0,
            max: 1924,
            ticks: { display: false, stepSize: 148 },
            grid: { color: "#D9D9D9", lineWidth: 2, drawTicks: false },
            border: { display: false },
            afterFit: (s: any) => {
              s.height = 0;
            },
          },
          y: {
            type: "linear",
            min: -97,
            max: 778,
            ticks: { display: false },
            afterBuildTicks: (s: any) => {
              s.ticks = yGridValues.map((value) => ({ value }));
            },
            grid: {
              color: (c: any) => (c.tick && c.tick.value === 0 ? "#BFBFBF" : "#D9D9D9"),
              lineWidth: 2,
              drawTicks: false,
            },
            border: { display: true, color: "#BFBFBF", width: 2 },
            afterFit: (s: any) => {
              s.width = 63;
            },
          },
        },
      },
    } as any);
    return () => chart.destroy();
  }, []);

  const gold = "#FFC000";
  const bar = (left: number, top: number, width: number, height: number, background: string) => (
    <div style={{ position: "absolute", left, top, width, height, background }} />
  );

  return (
    <div style={{ position: "absolute", left: 0, top: 0, width: 2086, height: 1031, overflow: "hidden", background: "#fff" }}>
      {bar(0, 0, 2086, 50, "#7DCB80")}
      {bar(0, 0, 2086, 1, "#8C9A8C")}
      {bar(0, 0, 1, 50, "#8C8C8C")}
      {bar(2085, 0, 1, 1031, "#BFBFBF")}
      {bar(0, 1030, 2086, 1, "#8C8C8C")}
      {bar(1, 50, 21, 4, gold)}
      {bar(2063, 50, 22, 3, gold)}
      {bar(2080, 50, 5, 17, gold)}
      {bar(1, 1023, 21, 7, gold)}
      {bar(2063, 1023, 23, 7, gold)}
      {bar(2080, 970, 6, 60, gold)}
      <canvas ref={ref} width={2086} height={1031} style={{ position: "absolute", left: 0, top: 0, display: "block" }} />
    </div>
  );
}
